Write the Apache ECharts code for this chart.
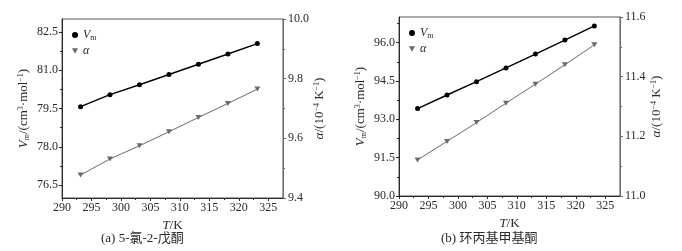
<!DOCTYPE html>
<html><head><meta charset="utf-8">
<script src="https://cdn.jsdelivr.net/npm/echarts@6/dist/echarts.min.js"></script>
<style>html,body{margin:0;padding:0;background:#fff}#c{width:682px;height:251px}</style>
</head><body><div id="c"></div>
<script>
// ---- data ----
const temps = [293.15, 298.15, 303.15, 308.15, 313.15, 318.15, 323.15];
const vmA = [79.57, 80.04, 80.43, 80.83, 81.23, 81.63, 82.04];
const alphaA = [9.477, 9.531, 9.575, 9.622, 9.670, 9.717, 9.765];
const vmB = [93.42, 93.95, 94.47, 95.01, 95.55, 96.10, 96.65];
const alphaB = [11.121, 11.183, 11.246, 11.311, 11.375, 11.440, 11.507];
// ---- ticks ----
const xTicks = [290, 295, 300, 305, 310, 315, 320, 325];
const xMinor = [292.5, 297.5, 302.5, 307.5, 312.5, 317.5, 322.5];
const yLeftA = [76.5, 78.0, 79.5, 81.0, 82.5];
const yLeftAMinor = [77.25, 78.75, 80.25, 81.75];
const yRightA = [9.4, 9.6, 9.8, 10.0];
const yRightAMinor = [9.5, 9.7, 9.9];
const yLeftB = [90.0, 91.5, 93.0, 94.5, 96.0];
const yLeftBMinor = [90.75, 92.25, 93.75, 95.25, 96.75];
const yRightB = [11.0, 11.2, 11.4, 11.6];
const yRightBMinor = [11.1, 11.3, 11.5];
const captions = ['(a) 5-氯-2-戊酮', '(b) 环丙基甲基酮'];

const SERIF = "'Liberation Serif','Noto Sans CJK SC',serif";
const DARK = '#2a2a2a';
const GRAY = '#6a6a6a';
const pair = (xs, ys) => xs.map((x, i) => [x, ys[i]]);
const fmt1 = v => Number(v).toFixed(1);
const triDown = 'path://M0,0 L10,0 L5,9 Z';

const grids = [
  {left: 62, right: 399, top: 19, bottom: 53},
  {left: 399, right: 62, top: 17, bottom: 55}
];
const ranges = [
  {yl: [76, 83], yr: [9.4, 10.0], ylT: yLeftA, ylM: yLeftAMinor, yrT: yRightA, yrM: yRightAMinor, vm: vmA, al: alphaA},
  {yl: [90, 97], yr: [11.0, 11.6], ylT: yLeftB, ylM: yLeftBMinor, yrT: yRightB, yrM: yRightBMinor, vm: vmB, al: alphaB}
];

const rich = {
  i: {fontFamily: SERIF, fontStyle: 'italic', fontSize: 13, color: DARK},
  n: {fontFamily: SERIF, fontSize: 13, color: DARK},
  sub: {fontFamily: SERIF, fontSize: 8, color: DARK, padding: [6, 0, 0, 0]},
  sup: {fontFamily: SERIF, fontSize: 8, color: DARK, padding: [0, 0, 6, 0]}
};
const legRich = {
  i: {fontFamily: SERIF, fontStyle: 'italic', fontSize: 12, color: DARK},
  sub: {fontFamily: SERIF, fontSize: 8, color: DARK, padding: [6, 0, 0, 0]}
};

const xAxis = [], yAxis = [], series = [], legend = [], title = [];
ranges.forEach((r, g) => {
  xAxis.push({
    gridIndex: g, type: 'value', min: 290, max: 327.5, position: 'bottom',
    axisLine: {show: true, lineStyle: {color: DARK, width: 1}},
    axisTick: {show: true, inside: false, length: 3, customValues: xTicks, lineStyle: {color: DARK}},
    axisLabel: {customValues: xTicks, formatter: v => String(Math.round(v)), fontFamily: SERIF, fontSize: 12, color: DARK, margin: 4},
    splitLine: {show: false},
    name: '{i|T}{n|/K}', nameLocation: 'middle', nameGap: 20,
    nameTextStyle: {rich: rich}
  }, {
    gridIndex: g, type: 'value', min: 290, max: 327.5, position: 'bottom',
    axisLine: {show: false},
    axisTick: {show: true, inside: false, length: 2, customValues: xMinor, lineStyle: {color: DARK}},
    axisLabel: {show: false}, splitLine: {show: false}
  });
  const base = 4 * g;
  yAxis.push({
    gridIndex: g, type: 'value', min: r.yl[0], max: r.yl[1], position: 'left',
    axisLine: {show: true, lineStyle: {color: DARK}},
    axisTick: {show: true, inside: false, length: 3, customValues: r.ylT, lineStyle: {color: DARK}},
    axisLabel: {customValues: r.ylT, formatter: fmt1, fontFamily: SERIF, fontSize: 12, color: DARK, margin: 4},
    splitLine: {show: false},
    name: '{i|V}{sub|m}{n|/(cm}{sup|3}{n|·mol}{sup|−1}{n|)}', nameLocation: 'middle', nameGap: 31,
    nameTextStyle: {rich: rich}
  }, {
    gridIndex: g, type: 'value', min: r.yl[0], max: r.yl[1], position: 'left',
    axisLine: {show: false},
    axisTick: {show: true, inside: false, length: 2, customValues: r.ylM, lineStyle: {color: DARK}},
    axisLabel: {show: false}, splitLine: {show: false}
  }, {
    gridIndex: g, type: 'value', min: r.yr[0], max: r.yr[1], position: 'right',
    axisLine: {show: true, lineStyle: {color: GRAY}},
    axisTick: {show: true, inside: false, length: 3, customValues: r.yrT, lineStyle: {color: GRAY}},
    axisLabel: {customValues: r.yrT, formatter: fmt1, fontFamily: SERIF, fontSize: 12, color: DARK, margin: 5},
    splitLine: {show: false},
    name: '{i|α}{n|/(10}{sup|−4}{n| K}{sup|−1}{n|)}', nameLocation: 'middle', nameGap: 27,
    nameTextStyle: {rich: rich}
  }, {
    gridIndex: g, type: 'value', min: r.yr[0], max: r.yr[1], position: 'right',
    axisLine: {show: false},
    axisTick: {show: true, inside: false, length: 2, customValues: r.yrM, lineStyle: {color: GRAY}},
    axisLabel: {show: false}, splitLine: {show: false}
  });
  const nmV = 'Vm' + g, nmA = 'alpha' + g;
  series.push({
    name: nmV, type: 'line', xAxisIndex: 2 * g, yAxisIndex: base,
    data: pair(temps, r.vm), symbol: 'circle', symbolSize: 5,
    lineStyle: {color: '#000', width: 1.4}, itemStyle: {color: '#000'}, z: 3, animation: false
  }, {
    name: nmA, type: 'line', xAxisIndex: 2 * g, yAxisIndex: base + 2,
    data: pair(temps, r.al), symbol: triDown, symbolSize: [6, 5],
    lineStyle: {color: GRAY, width: 1}, itemStyle: {color: GRAY}, z: 2, animation: false
  });
  legend.push({
    orient: 'vertical', left: grids[g].left + 5, top: grids[g].top + 5,
    itemWidth: 6, itemHeight: 6, itemGap: 3,
    data: [{name: nmV, icon: 'circle'}, {name: nmA, icon: triDown}],
    formatter: n => n.startsWith('Vm') ? '{i|V}{sub|m}' : '{i|α}',
    textStyle: {rich: legRich},
    selectedMode: false
  });
  title.push({
    text: captions[g], left: g === 0 ? 96 : 436, top: 227,
    textStyle: {fontFamily: SERIF, fontSize: 13, fontWeight: 'normal', color: DARK}
  });
});

const chart = echarts.init(document.getElementById('c'), null, {renderer: 'canvas'});
chart.setOption({
  backgroundColor: '#fff',
  animation: false,
  title: title,
  legend: legend,
  grid: grids.map(gr => Object.assign({show: true, borderColor: '#555', borderWidth: 1, backgroundColor: 'transparent'}, gr)),
  xAxis: xAxis,
  yAxis: yAxis,
  series: series
});
</script></body></html>
